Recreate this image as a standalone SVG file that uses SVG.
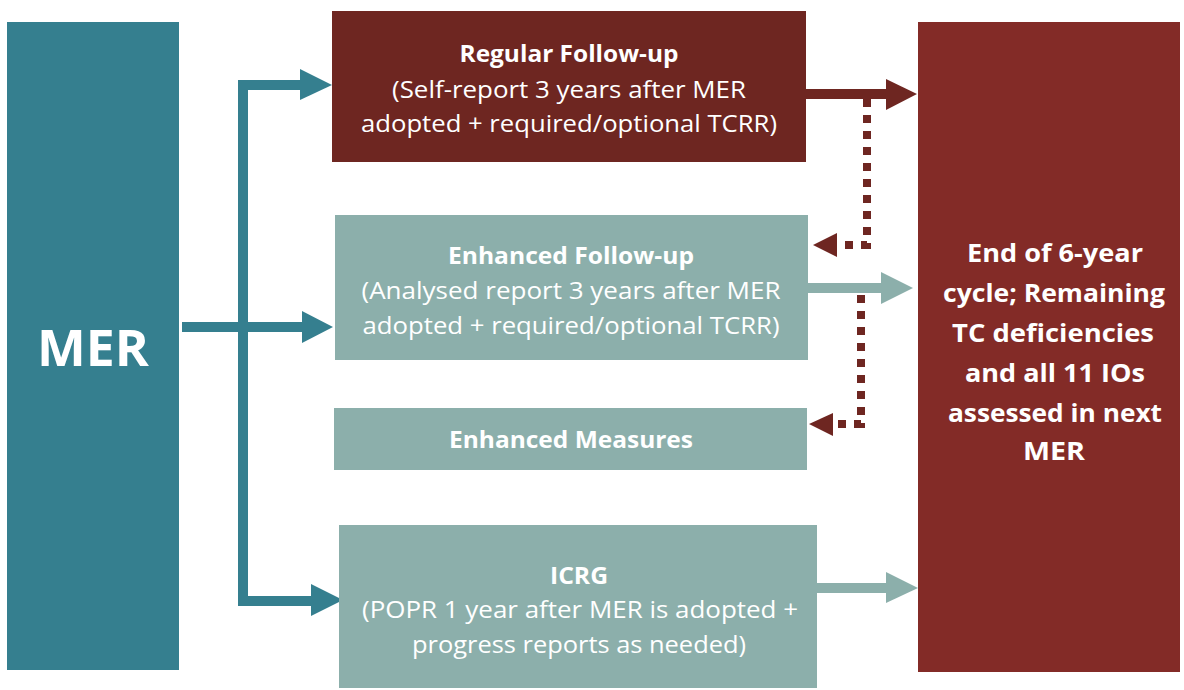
<svg xmlns="http://www.w3.org/2000/svg" width="1184" height="690" viewBox="0 0 1184 690">
<style>
.t{font-family:"Open Sans","Noto Sans","Liberation Sans",sans-serif;fill:#ffffff;text-anchor:middle;font-size:23px}
.b{font-weight:bold}
.teal{fill:#357F8F}
.red{fill:#6E2621}
.sage{fill:#8CAFAB}
.dot{fill:none;stroke:#6E2621;stroke-width:8;stroke-dasharray:8 8}
</style>
<rect width="1184" height="690" fill="#ffffff"/>
<g id="connectors">
  <!-- MER branches -->
  <rect class="teal" x="238" y="80" width="10" height="526"/>
  <rect class="teal" x="238" y="80" width="64" height="10"/>
  <polygon class="teal" points="300,69 332,85 300,100"/>
  <rect class="teal" x="182" y="322" width="122" height="10"/>
  <polygon class="teal" points="302,311 333,327 302,343"/>
  <rect class="teal" x="238" y="596" width="75" height="10"/>
  <polygon class="teal" points="311,584 343,600 311,616"/>
  <!-- to end box -->
  <rect class="red" x="806" y="89" width="82" height="10"/>
  <polygon class="red" points="886,79 917,94 886,110"/>
  <rect class="sage" x="808" y="283" width="75" height="10"/>
  <polygon class="sage" points="881,272 913,288 881,304"/>
  <rect class="sage" x="817" y="583" width="71" height="10"/>
  <polygon class="sage" points="886,572 918,588 886,603"/>
  <!-- dotted -->
  <path class="dot" d="M867 99 V245 H837"/>
  <polygon class="red" points="837,233 813,245 837,257"/>
  <path class="dot" d="M861 295 V424 H833"/>
  <polygon class="red" points="833,413 809,424 833,436"/>
</g>
<g id="mer">
  <rect class="teal" x="7" y="22" width="172" height="648"/>
  <text class="t b" x="93" y="366" style="font-size:50px" textLength="112" lengthAdjust="spacingAndGlyphs">MER</text>
</g>
<g id="regular">
  <rect class="red" x="332" y="11" width="474" height="151"/>
  <text class="t b" x="569" y="62" textLength="219" lengthAdjust="spacingAndGlyphs">Regular Follow-up</text>
  <text class="t" x="569" y="98" textLength="354" lengthAdjust="spacingAndGlyphs">(Self-report 3 years after MER</text>
  <text class="t" x="569" y="132" textLength="416" lengthAdjust="spacingAndGlyphs">adopted + required/optional TCRR)</text>
</g>
<g id="enhanced-followup">
  <rect class="sage" x="335" y="215" width="473" height="145"/>
  <text class="t b" x="571" y="264" textLength="246" lengthAdjust="spacingAndGlyphs">Enhanced Follow-up</text>
  <text class="t" x="571" y="299" textLength="419" lengthAdjust="spacingAndGlyphs">(Analysed report 3 years after MER</text>
  <text class="t" x="571" y="334" textLength="417" lengthAdjust="spacingAndGlyphs">adopted + required/optional TCRR)</text>
</g>
<g id="enhanced-measures">
  <rect class="sage" x="334" y="408" width="473" height="62"/>
  <text class="t b" x="571" y="448" textLength="244" lengthAdjust="spacingAndGlyphs">Enhanced Measures</text>
</g>
<g id="icrg">
  <rect class="sage" x="339" y="525" width="478" height="163"/>
  <text class="t b" x="579" y="584" textLength="58" lengthAdjust="spacingAndGlyphs">ICRG</text>
  <text class="t" x="580" y="618" textLength="436" lengthAdjust="spacingAndGlyphs">(POPR 1 year after MER is adopted +</text>
  <text class="t" x="579" y="653" textLength="334" lengthAdjust="spacingAndGlyphs">progress reports as needed)</text>
</g>
<g id="end-cycle">
  <rect x="918" y="22" width="262" height="650" fill="#832B27"/>
  <text class="t b" x="1055" y="262" style="font-size:25px" textLength="176" lengthAdjust="spacingAndGlyphs">End of 6-year</text>
  <text class="t b" x="1054" y="302" style="font-size:25px" textLength="222" lengthAdjust="spacingAndGlyphs">cycle; Remaining</text>
  <text class="t b" x="1053" y="342" style="font-size:25px" textLength="202" lengthAdjust="spacingAndGlyphs">TC deficiencies</text>
  <text class="t b" x="1055" y="382" style="font-size:25px" textLength="180" lengthAdjust="spacingAndGlyphs">and all 11 IOs</text>
  <text class="t b" x="1055" y="422" style="font-size:25px" textLength="214" lengthAdjust="spacingAndGlyphs">assessed in next</text>
  <text class="t b" x="1054" y="460" style="font-size:25px" textLength="62" lengthAdjust="spacingAndGlyphs">MER</text>
</g>
</svg>
